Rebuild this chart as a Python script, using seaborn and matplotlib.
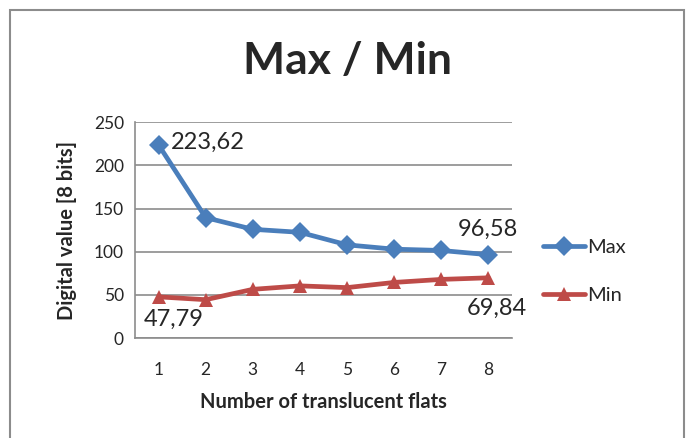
import numpy as np
import pandas as pd
import seaborn as sns
import matplotlib.pyplot as plt
from matplotlib.patches import Rectangle

# 데이터 ==========================================
flats = [1, 2, 3, 4, 5, 6, 7, 8]
max_vals = [223.62, 139.5, 126, 122.5, 108, 103, 101.5, 96.58]
min_vals = [47.79, 44.5, 56.5, 60.5, 58.5, 64.5, 68, 69.84]

df = pd.DataFrame({
    'flats': flats * 2,
    'value': max_vals + min_vals,
    'series': ['Max'] * 8 + ['Min'] * 8,
})

sns.set_style('white')
plt.rcParams['font.family'] = ['Lato', 'DejaVu Sans']

fig = plt.figure(figsize=(6.89, 4.38), dpi=100)
ax = fig.add_axes([0.196, 0.228, 0.547, 0.493])

palette = {'Max': '#4A7EBB', 'Min': '#BE4B48'}
sns.lineplot(data=df, x='flats', y='value', hue='series', style='series',
             markers={'Max': 'D', 'Min': '^'}, dashes=False, palette=palette,
             linewidth=3.4, markersize=10, markeredgewidth=0, ax=ax)

ax.set_xlim(0.5, 8.5)
ax.set_ylim(0, 250)
ax.set_xticks(flats)
ax.set_yticks([0, 50, 100, 150, 200, 250])
ax.tick_params(axis='both', labelsize=12.5, length=0, pad=8)
ax.tick_params(axis='x', pad=17)
ax.yaxis.grid(True, color='#8c8c8c', linewidth=1.2)
ax.set_axisbelow(True)
for s in ['top', 'right']:
    ax.spines[s].set_visible(False)
for s in ['left', 'bottom']:
    ax.spines[s].set_color('#8c8c8c')
    ax.spines[s].set_linewidth(1.2)

ax.set_xlabel('Number of translucent flats', fontsize=14.5, fontweight='bold', labelpad=10)
ax.set_ylabel('Digital value [8 bits]', fontsize=14.5, fontweight='bold', labelpad=12)

# 데이터 라벨
ax.annotate('223,62', (1, max_vals[0]), xytext=(9, 2), textcoords='offset points',
            fontsize=17, ha='left', va='center')
ax.annotate('96,58', (8, max_vals[-1]), xytext=(0, 18), textcoords='offset points',
            fontsize=17, ha='center', va='center')
ax.annotate('47,79', (1, min_vals[0]), xytext=(11, -16), textcoords='offset points',
            fontsize=17, ha='center', va='center')
ax.annotate('69,84', (8, min_vals[-1]), xytext=(6, -22), textcoords='offset points',
            fontsize=17, ha='center', va='center')

# 범례
handles, labels = ax.get_legend_handles_labels()
ax.legend_.remove()
fig.legend(handles, labels, loc='center left', bbox_to_anchor=(0.762, 0.38),
           frameon=False, fontsize=14.5, handlelength=2.1, handletextpad=0.1,
           labelspacing=1.5)

fig.suptitle('Max / Min', fontsize=32, fontweight='bold', x=0.505, y=0.86, va='center')

fig.patches.append(Rectangle((10 / 689, -0.1), 674 / 689, 1.1 - 10 / 438,
                             transform=fig.transFigure, fill=False,
                             edgecolor='#8c8c8c', linewidth=1.5))

fig.savefig('out.png', dpi=100)
